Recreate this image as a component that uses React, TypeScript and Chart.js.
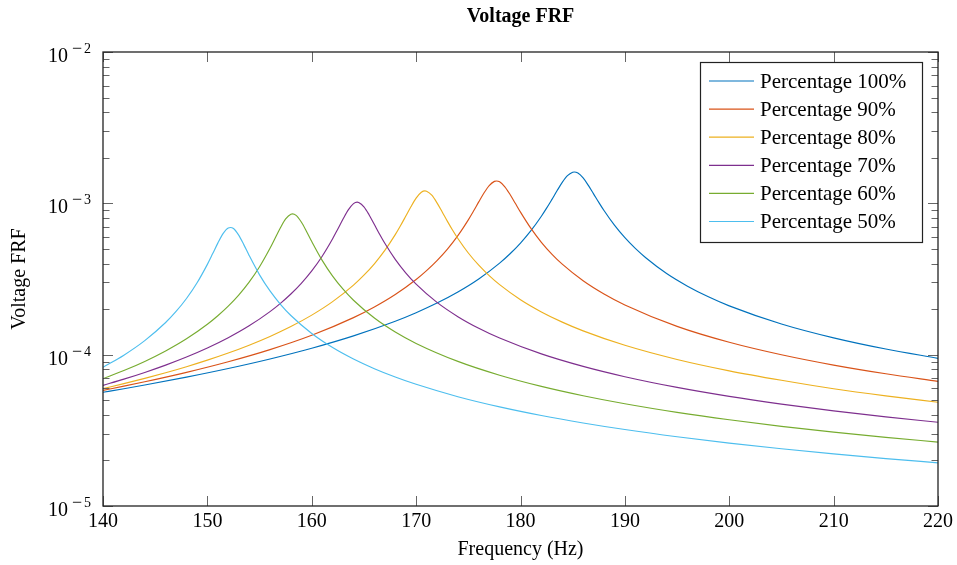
import React, { useEffect, useRef } from 'react';
import { Chart, registerables } from 'chart.js';

Chart.register(...registerables);

// ---------- data ----------
const freq100 = [140, 142, 144, 148, 152, 156, 160, 164, 168, 170, 172, 174, 176, 178, 179, 180, 181, 182, 182.5, 183, 183.5, 184, 184.5, 185, 185.15, 185.5, 186, 186.5, 187, 187.5, 188, 189, 190, 191, 192, 194, 196, 198, 200, 205, 210, 215, 220];
const frf100 = [5.64e-5, 5.957e-5, 6.304e-5, 7.109e-5, 8.104e-5, 9.368e-5, 1.1028e-4, 1.3306e-4, 1.6627e-4, 1.893e-4, 2.1915e-4, 2.5933e-4, 3.1616e-4, 4.0228e-4, 4.641e-4, 5.4625e-4, 6.596e-4, 8.218e-4, 9.292e-4, 1.0586e-3, 1.2098e-3, 1.3741e-3, 1.5225e-3, 1.6059e-3, 1.6113e-3, 1.5847e-3, 1.4705e-3, 1.3134e-3, 1.155e-3, 1.0144e-3, 8.96e-4, 7.169e-4, 5.927e-4, 5.035e-4, 4.37e-4, 3.4363e-4, 2.8354e-4, 2.4115e-4, 2.1005e-4, 1.595e-4, 1.2914e-4, 1.0894e-4, 9.458e-5];

const freq90 = [140, 142, 144, 148, 152, 156, 160, 164, 166, 168, 170, 171, 172, 173, 174, 175, 175.5, 176, 176.5, 177, 177.5, 177.7, 178, 178.5, 179, 179.5, 180, 181, 182, 183, 184, 186, 188, 190, 195, 200, 205, 210, 215, 220];
const frf90 = [5.81e-5, 6.192e-5, 6.619e-5, 7.642e-5, 8.979e-5, 1.0801e-4, 1.3433e-4, 1.7566e-4, 2.066e-4, 2.4975e-4, 3.1388e-4, 3.5907e-4, 4.182e-4, 4.985e-4, 6.118e-4, 7.78e-4, 8.892e-4, 1.0219e-3, 1.17e-3, 1.3103e-3, 1.3968e-3, 1.4055e-3, 1.3867e-3, 1.2868e-3, 1.1443e-3, 1.0007e-3, 8.745e-4, 6.826e-4, 5.528e-4, 4.621e-4, 3.962e-4, 3.0778e-4, 2.5165e-4, 2.1302e-4, 1.538e-4, 1.2075e-4, 9.985e-5, 8.533e-5, 7.475e-5, 6.663e-5];

const freq80 = [140, 142, 144, 146, 148, 150, 152, 154, 156, 158, 160, 162, 164, 165, 166, 167, 168, 168.5, 169, 169.5, 170, 170.5, 170.85, 171, 171.5, 172, 172.5, 173, 173.5, 174, 175, 176, 177, 178, 180, 182, 184, 186, 190, 195, 200, 205, 210, 215, 220];
const frf80 = [5.96e-5, 6.431e-5, 6.97e-5, 7.596e-5, 8.33e-5, 9.202e-5, 1.0256e-4, 1.1556e-4, 1.32e-4, 1.5342e-4, 1.825e-4, 2.2411e-4, 2.8828e-4, 3.3518e-4, 3.987e-4, 4.884e-4, 6.209e-4, 7.109e-4, 8.208e-4, 9.494e-4, 1.0829e-3, 1.1839e-3, 1.2083e-3, 1.2037e-3, 1.1314e-3, 1.0071e-3, 8.761e-4, 7.601e-4, 6.638e-4, 5.856e-4, 4.697e-4, 3.901e-4, 3.329e-4, 2.9012e-4, 2.3075e-4, 1.9169e-4, 1.6413e-4, 1.4367e-4, 1.1536e-4, 9.299e-5, 7.821e-5, 6.772e-5, 5.95e-5, 5.34e-5, 4.85e-5];

const freq70 = [140, 142, 144, 146, 148, 150, 152, 154, 156, 157, 158, 159, 160, 161, 162, 162.5, 163, 163.5, 164, 164.35, 164.5, 165, 165.5, 166, 166.5, 167, 168, 169, 170, 172, 174, 176, 178, 182, 186, 190, 195, 200, 205, 210, 215, 220];
const frf70 = [6.27e-5, 6.89e-5, 7.631e-5, 8.531e-5, 9.647e-5, 1.1068e-4, 1.2938e-4, 1.5506e-4, 1.9248e-4, 2.1835e-4, 2.5168e-4, 2.9609e-4, 3.5768e-4, 4.473e-4, 5.836e-4, 6.769e-4, 7.878e-4, 9.05e-4, 9.957e-4, 1.018e-3, 1.0139e-3, 9.485e-4, 8.383e-4, 7.245e-4, 6.254e-4, 5.443e-4, 4.262e-4, 3.474e-4, 2.9237e-4, 2.2153e-4, 1.7835e-4, 1.4942e-4, 1.2872e-4, 1.0115e-4, 8.362e-5, 7.15e-5, 6.076e-5, 5.3e-5, 4.712e-5, 4.252e-5, 3.882e-5, 3.577e-5];

const freq60 = [140, 142, 144, 146, 148, 150, 151, 152, 153, 154, 155, 156, 156.5, 157, 157.5, 158, 158.15, 158.5, 159, 159.5, 160, 161, 162, 163, 164, 166, 168, 170, 174, 178, 182, 186, 190, 195, 200, 205, 210, 215, 220];
const frf60 = [6.93e-5, 7.851e-5, 9.026e-5, 1.058e-4, 1.2726e-4, 1.5878e-4, 1.8076e-4, 2.0928e-4, 2.4766e-4, 3.0157e-4, 3.8132e-4, 5.0496e-4, 5.902e-4, 6.899e-4, 7.884e-4, 8.48e-4, 8.51e-4, 8.322e-4, 7.527e-4, 6.522e-4, 5.591e-4, 4.2e-4, 3.305e-4, 2.7085e-4, 2.2894e-4, 1.746e-4, 1.4119e-4, 1.1866e-4, 9.029e-5, 7.318e-5, 6.174e-5, 5.356e-5, 4.741e-5, 4.158e-5, 3.713e-5, 3.362e-5, 3.077e-5, 2.842e-5, 2.644e-5];

const freq50 = [140, 142, 144, 146, 147, 148, 149, 150, 150.5, 151, 151.5, 152, 152.2, 152.5, 153, 153.5, 154, 155, 156, 157, 158, 160, 162, 164, 166, 168, 170, 174, 178, 182, 186, 190, 195, 200, 205, 210, 215, 220];
const frf50 = [8.25e-5, 9.922e-5, 1.2376e-4, 1.6305e-4, 1.9293e-4, 2.3493e-4, 2.9727e-4, 3.95e-4, 4.635e-4, 5.458e-4, 6.311e-4, 6.882e-4, 6.92e-4, 6.814e-4, 6.163e-4, 5.314e-4, 4.528e-4, 3.369e-4, 2.637e-4, 2.153e-4, 1.8157e-4, 1.381e-4, 1.1151e-4, 9.364e-5, 8.082e-5, 7.119e-5, 6.369e-5, 5.276e-5, 4.519e-5, 3.963e-5, 3.538e-5, 3.201e-5, 2.868e-5, 2.603e-5, 2.388e-5, 2.209e-5, 2.058e-5, 1.929e-5];

const seriesLabels = ['Percentage 100%', 'Percentage 90%', 'Percentage 80%', 'Percentage 70%', 'Percentage 60%', 'Percentage 50%'];
const seriesColors = ['#0072BD', '#D95319', '#EDB120', '#7E2F8E', '#77AC30', '#4DBEEE'];
const seriesFreqs = [freq100, freq90, freq80, freq70, freq60, freq50];
const seriesValues = [frf100, frf90, frf80, frf70, frf60, frf50];

const xTickValues = [140, 150, 160, 170, 180, 190, 200, 210, 220];
const yTickExponents = [-5, -4, -3, -2];
const chartTitle = 'Voltage FRF';
const xAxisTitle = 'Frequency (Hz)';
const yAxisTitle = 'Voltage FRF';

const WIDTH = 957;
const HEIGHT = 565;
const SERIF = '"Liberation Serif", "Times New Roman", serif';

const pgfPlugin = {
  id: 'pgfDecor',
  afterDatasetsDraw(chart: any) {
    const { ctx, chartArea: a, scales } = chart;
    const xs = scales.x;
    const ys = scales.y;
    ctx.save();

    // inward tick marks on all four sides
    ctx.strokeStyle = '#666';
    ctx.lineWidth = 1;
    ctx.beginPath();
    for (const t of xTickValues) {
      const px = Math.round(xs.getPixelForValue(t)) + 0.5;
      ctx.moveTo(px, a.bottom);
      ctx.lineTo(px, a.bottom - 10);
      ctx.moveTo(px, a.top);
      ctx.lineTo(px, a.top + 10);
    }
    for (const e of yTickExponents) {
      const maxM = e === -2 ? 1 : 9;
      for (let m = 1; m <= maxM; m++) {
        const py = Math.round(ys.getPixelForValue(m * Math.pow(10, e))) + 0.5;
        const len = m === 1 ? 10 : 6.5;
        ctx.moveTo(a.left, py);
        ctx.lineTo(a.left + len, py);
        ctx.moveTo(a.right, py);
        ctx.lineTo(a.right - len, py);
      }
    }
    ctx.stroke();

    // frame
    ctx.strokeStyle = '#222';
    ctx.lineWidth = 1.3;
    ctx.strokeRect(a.left, a.top, a.right - a.left, a.bottom - a.top);

    ctx.fillStyle = '#000';
    // x tick labels
    ctx.font = `20px ${SERIF}`;
    ctx.textAlign = 'center';
    ctx.textBaseline = 'alphabetic';
    for (const t of xTickValues) {
      ctx.fillText(String(t), xs.getPixelForValue(t), a.bottom + 21);
    }
    // y tick labels 10^e
    for (const e of yTickExponents) {
      const py = ys.getPixelForValue(Math.pow(10, e));
      ctx.font = `20px ${SERIF}`;
      ctx.textAlign = 'right';
      ctx.fillText('10', a.left - 35, py + 10);
      ctx.font = `18px ${SERIF}`;
      ctx.textAlign = 'center';
      ctx.fillText('\u2212', a.left - 26, py + 2);
      ctx.font = `14px ${SERIF}`;
      ctx.textAlign = 'left';
      ctx.fillText(String(Math.abs(e)), a.left - 19, py + 1);
    }

    // titles
    ctx.textAlign = 'center';
    ctx.font = `bold 20px ${SERIF}`;
    ctx.fillText(chartTitle, (a.left + a.right) / 2, 22);
    ctx.font = `20px ${SERIF}`;
    ctx.fillText(xAxisTitle, (a.left + a.right) / 2, 555);
    ctx.save();
    ctx.translate(20, (a.top + a.bottom) / 2);
    ctx.rotate(-Math.PI / 2);
    ctx.textBaseline = 'middle';
    ctx.fillText(yAxisTitle, 0, 0);
    ctx.restore();

    // legend (north east, inside)
    const boxW = 222;
    const boxH = 180;
    const boxX = a.right - 238;
    const boxY = a.top + 10;
    ctx.fillStyle = '#fff';
    ctx.fillRect(boxX, boxY, boxW, boxH);
    ctx.strokeStyle = '#222';
    ctx.lineWidth = 1.2;
    ctx.strokeRect(boxX + 0.5, boxY + 0.5, boxW, boxH);
    ctx.font = `21px ${SERIF}`;
    ctx.textAlign = 'left';
    ctx.textBaseline = 'middle';
    chart.data.datasets.forEach((ds: any, i: number) => {
      const ry = boxY + 19 + i * 28.1;
      ctx.strokeStyle = ds.borderColor;
      ctx.lineWidth = 1.2;
      ctx.beginPath();
      ctx.moveTo(boxX + 9, ry);
      ctx.lineTo(boxX + 54, ry);
      ctx.stroke();
      ctx.fillStyle = '#000';
      ctx.fillText(ds.label, boxX + 60, ry + 1);
    });

    ctx.restore();
  },
};

export default function App() {
  const canvasRef = useRef<HTMLCanvasElement | null>(null);

  useEffect(() => {
    const canvas = canvasRef.current;
    if (!canvas) return;
    const datasets = seriesLabels.map((label, i) => ({
      label,
      data: seriesFreqs[i].map((f, j) => ({ x: f, y: seriesValues[i][j] })),
      borderColor: seriesColors[i],
      backgroundColor: seriesColors[i],
      borderWidth: 1.15,
      pointRadius: 0,
      fill: false,
      cubicInterpolationMode: 'monotone' as const,
      order: seriesLabels.length - i,
    }));
    const chart = new Chart(canvas, {
      type: 'line',
      data: { datasets },
      options: {
        animation: false,
        responsive: false,
        devicePixelRatio: 1,
        layout: { padding: { left: 0, top: 52, right: 19, bottom: 0 } },
        plugins: {
          legend: { display: false },
          tooltip: { enabled: false },
          title: { display: false },
        },
        scales: {
          x: {
            type: 'linear',
            min: 140,
            max: 220,
            grid: { display: false },
            border: { display: false },
            ticks: { display: false, stepSize: 10 },
            afterFit: (scale: any) => {
              scale.height = 59;
            },
          },
          y: {
            type: 'logarithmic',
            min: 1e-5,
            max: 1e-2,
            grid: { display: false },
            border: { display: false },
            ticks: { display: false },
            afterFit: (scale: any) => {
              scale.width = 103;
            },
          },
        },
      },
      plugins: [pgfPlugin],
    });
    return () => chart.destroy();
  }, []);

  return (
    <div style={{ position: 'fixed', left: 0, top: 0, width: WIDTH, height: HEIGHT, background: '#fff' }}>
      <canvas ref={canvasRef} width={WIDTH} height={HEIGHT} style={{ width: WIDTH, height: HEIGHT, display: 'block' }} />
    </div>
  );
}
